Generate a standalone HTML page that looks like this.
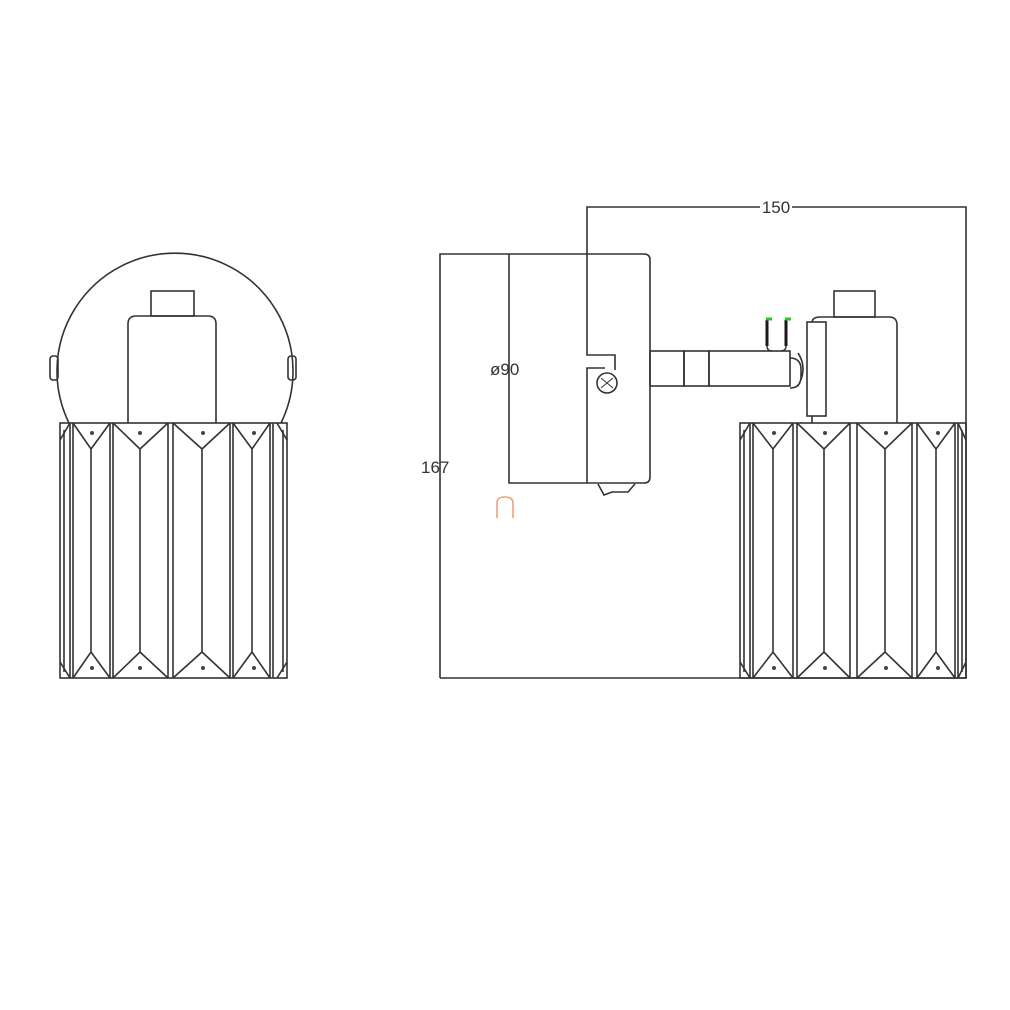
<!DOCTYPE html>
<html><head><meta charset="utf-8"><style>html,body{margin:0;padding:0;background:#fff}svg{display:block}</style></head>
<body>
<svg width="1010" height="1010" viewBox="0 0 1010 1010" xmlns="http://www.w3.org/2000/svg" fill="none" stroke="#333" stroke-width="1.6" font-family="Liberation Sans, sans-serif">
<!-- LEFT VIEW -->
<path d="M69,423 A118,118 0 1 1 281,423"/>
<rect x="50" y="356" width="8" height="24" rx="3"/>
<rect x="288" y="356" width="8" height="24" rx="3"/>
<rect x="151" y="291" width="43" height="25"/>
<path d="M128,423 V324 Q128,316 136,316 H208 Q216,316 216,324 V423"/>
<rect x="60" y="423" width="227" height="255"/>
<g>
<path d="M70,423V678M73,423V678M110,423V678M113,423V678M168,423V678M173,423V678M230,423V678M233,423V678M270,423V678M273,423V678M64,430V672M283,430V672"/>
<path d="M73,423L91,449L110,423M73,678L91,652L110,678M91,449V652"/>
<path d="M113,423L140,449L168,423M113,678L140,652L168,678M140,449V652"/>
<path d="M173,423L202,449L230,423M173,678L202,652L230,678M202,449V652"/>
<path d="M233,423L252,449L270,423M233,678L252,652L270,678M252,449V652"/>
<path d="M60,440L70,423M60,662L70,678M287,440L277,423M287,662L277,678"/>
</g>
<g fill="#444" stroke="none">
<circle cx="92" cy="433" r="2"/><circle cx="140" cy="433" r="2"/><circle cx="203" cy="433" r="2"/><circle cx="254" cy="433" r="2"/>
<circle cx="92" cy="668" r="2"/><circle cx="140" cy="668" r="2"/><circle cx="203" cy="668" r="2"/><circle cx="254" cy="668" r="2"/>
</g>

<!-- RIGHT VIEW dims -->
<path d="M440,678V254H644Q650,254 650,260V477Q650,483 644,483H509V254"/>
<path d="M440,678H966V207H792M760,207H587V355H615V370M587,483V368H605"/>
<circle cx="607" cy="383" r="10"/>
<path d="M601,378L613,388M601,388L613,378" stroke-width="1"/>
<path d="M598,484L604,495L612,492H628L635,484"/>
<text x="776" y="213" fill="#333" stroke="none" font-size="17" text-anchor="middle">150</text>
<text x="421" y="473" fill="#333" stroke="none" font-size="17">167</text>
<text x="490" y="375" fill="#333" stroke="none" font-size="17">ø90</text>
<path d="M497,518V503Q497,497 505,497Q513,497 513,503V518" stroke="#f0a080"/>
<!-- arm -->
<rect x="650" y="351" width="34" height="35"/>
<rect x="684" y="351" width="25" height="35"/>
<rect x="709" y="351" width="81" height="35"/>
<path d="M790,358Q800,358 801,368V378Q800,388 790,388M798,353Q808,368 798,386"/>
<path d="M767,320V346M786,320V346" stroke="#1a1a1a" stroke-width="3"/>
<path d="M767,346Q767,351 772,351M786,346Q786,351 781,351" stroke-width="1.4"/>
<path d="M766,319H772M785,319H791" stroke="#2c2" stroke-width="3"/>
<!-- socket -->
<rect x="834" y="291" width="41" height="26"/>
<path d="M812,423V323Q812,317 820,317H889Q897,317 897,325V423"/>
<rect x="807" y="322" width="19" height="94" fill="#fff"/>
<!-- right shade -->
<rect x="740" y="423" width="226" height="255"/>
<path d="M750,423V678M753,423V678M793,423V678M797,423V678M850,423V678M857,423V678M912,423V678M917,423V678M955,423V678M958,423V678M744,430V672M962,430V672"/>
<path d="M753,423L773,449L793,423M753,678L773,652L793,678M773,449V652"/>
<path d="M797,423L824,449L850,423M797,678L824,652L850,678M824,449V652"/>
<path d="M857,423L885,449L912,423M857,678L885,652L912,678M885,449V652"/>
<path d="M917,423L936,449L955,423M917,678L936,652L955,678M936,449V652"/>
<path d="M740,440L750,423M740,662L750,678M966,440L958,423M966,662L958,678"/>
<g fill="#444" stroke="none">
<circle cx="774" cy="433" r="2"/><circle cx="825" cy="433" r="2"/><circle cx="886" cy="433" r="2"/><circle cx="938" cy="433" r="2"/>
<circle cx="774" cy="668" r="2"/><circle cx="825" cy="668" r="2"/><circle cx="886" cy="668" r="2"/><circle cx="938" cy="668" r="2"/>
</g>
</svg>
</body></html>
